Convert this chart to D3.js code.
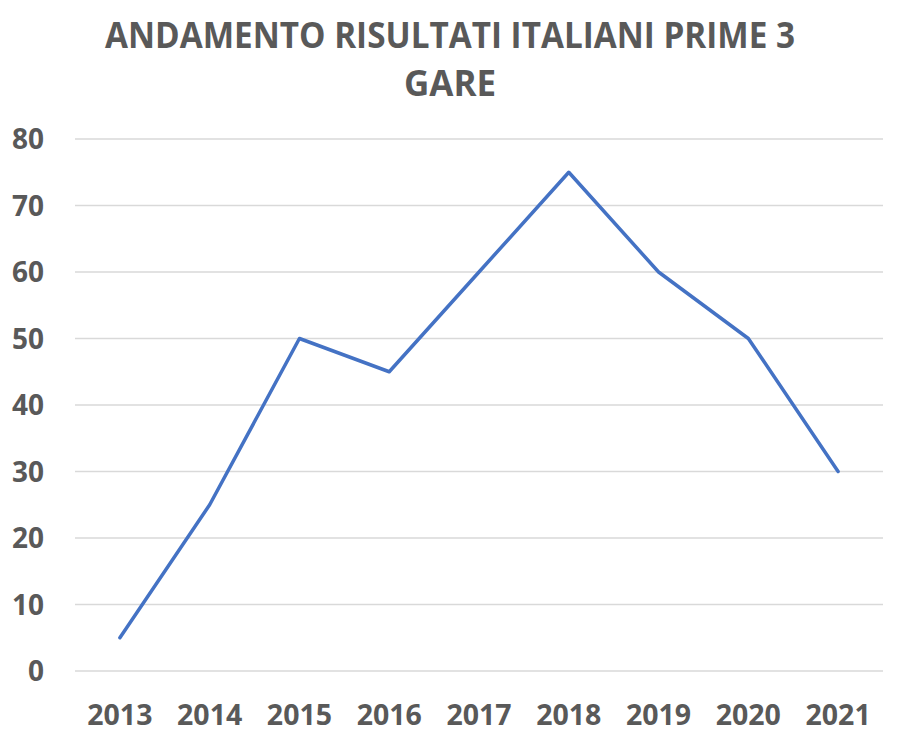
<!DOCTYPE html>
<html lang="en">
<head>
<meta charset="UTF-8">
<title>Andamento risultati</title>
<script src="https://d3js.org/d3.v7.min.js"></script>
<style>
  body { margin: 0; background: #fff; }
  text { font-family: "Open Sans", "Liberation Sans", sans-serif; font-weight: bold; fill: #595959; }
</style>
</head>
<body>
<script>
  const width = 900;
  const height = 743;

  const years = ["2013", "2014", "2015", "2016", "2017", "2018", "2019", "2020", "2021"];
  const results = [5, 25, 50, 45, 60, 75, 60, 50, 30];
  const yTicks = [0, 10, 20, 30, 40, 50, 60, 70, 80];
  const titleLines = ["ANDAMENTO RISULTATI ITALIANI PRIME 3", "GARE"];

  const margin = { top: 139, right: 17, bottom: 72, left: 75 };

  const svg = d3.select("body").append("svg")
    .attr("width", width)
    .attr("height", height);

  const x = d3.scaleBand()
    .domain(years)
    .range([margin.left, width - margin.right]);

  const y = d3.scaleLinear()
    .domain([0, 80])
    .range([height - margin.bottom, margin.top]);

  // gridlines
  svg.append("g")
    .selectAll("line")
    .data(yTicks)
    .enter().append("line")
    .attr("x1", margin.left)
    .attr("x2", width - margin.right)
    .attr("y1", d => y(d))
    .attr("y2", d => y(d))
    .attr("stroke", "#d9d9d9")
    .attr("stroke-width", 1.3);

  // y labels
  svg.append("g")
    .selectAll("text")
    .data(yTicks)
    .enter().append("text")
    .attr("x", 44)
    .attr("y", d => y(d))
    .attr("dy", "0.36em")
    .attr("text-anchor", "end")
    .style("font-size", "28px")
    .text(d => d);

  // x labels
  svg.append("g")
    .selectAll("text")
    .data(years)
    .enter().append("text")
    .attr("x", d => x(d) + x.bandwidth() / 2)
    .attr("y", 725)
    .attr("text-anchor", "middle")
    .style("font-size", "28.5px")
    .text(d => d);

  const line = d3.line()
    .x((d, i) => x(years[i]) + x.bandwidth() / 2)
    .y(d => y(d));

  svg.append("path")
    .datum(results)
    .attr("fill", "none")
    .attr("stroke", "#4472c4")
    .attr("stroke-width", 3.5)
    .attr("stroke-linejoin", "round")
    .attr("stroke-linecap", "round")
    .attr("d", line);

  // title
  svg.append("text")
    .attr("x", 450)
    .attr("y", 48)
    .attr("text-anchor", "middle")
    .attr("textLength", 690)
    .attr("lengthAdjust", "spacingAndGlyphs")
    .style("font-size", "35px")
    .text(titleLines[0]);

  svg.append("text")
    .attr("x", 450)
    .attr("y", 96)
    .attr("text-anchor", "middle")
    .style("font-size", "35px")
    .text(titleLines[1]);
</script>
</body>
</html>
